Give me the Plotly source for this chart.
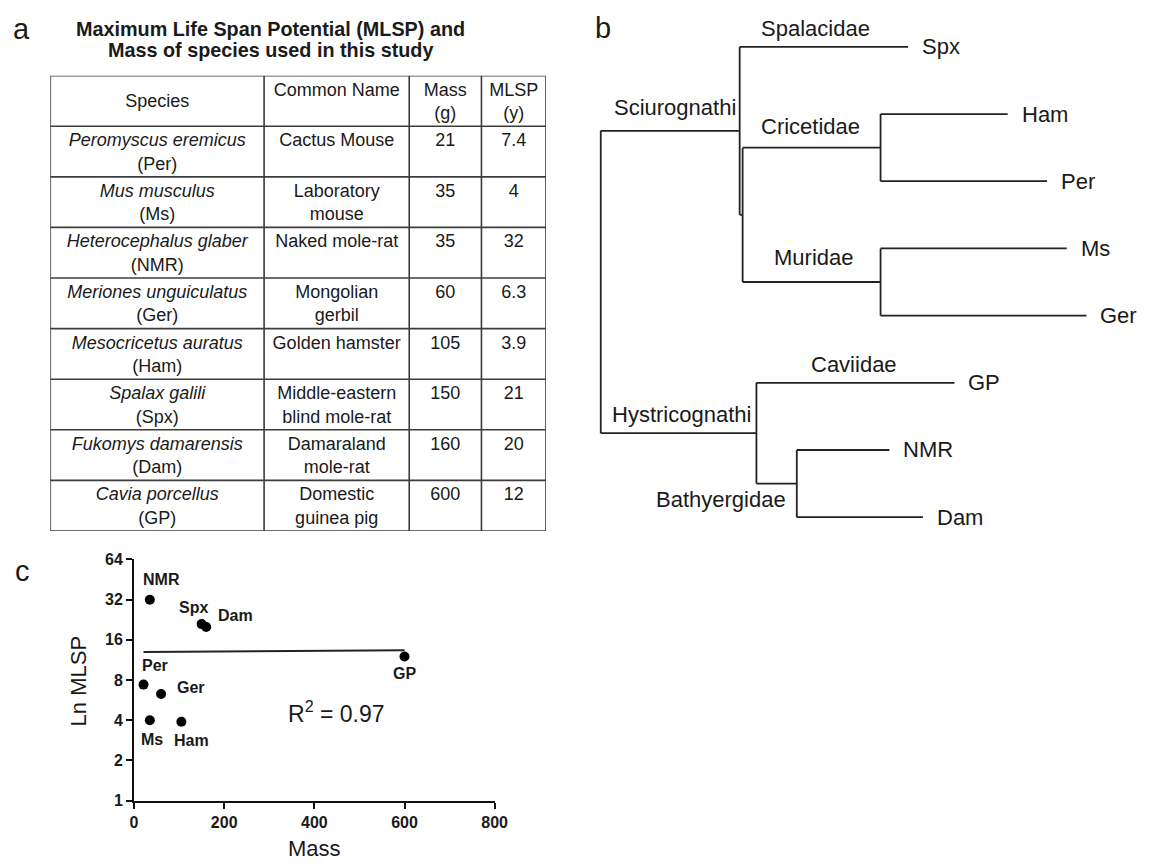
import numpy as np
import plotly.graph_objects as go

W, H = 1151, 868
FONT = "Liberation Sans, Arial, sans-serif"
INK = "#1a1a1a"

# ---------------- data: panel a (table) ----------------
species = ["Peromyscus eremicus", "Mus musculus", "Heterocephalus glaber",
           "Meriones unguiculatus", "Mesocricetus auratus", "Spalax galili",
           "Fukomys damarensis", "Cavia porcellus"]
abbrev = ["Per", "Ms", "NMR", "Ger", "Ham", "Spx", "Dam", "GP"]
common_names = ["Cactus Mouse", "Laboratory<br>mouse", "Naked mole-rat",
                "Mongolian<br>gerbil", "Golden hamster",
                "Middle-eastern<br>blind mole-rat", "Damaraland<br>mole-rat",
                "Domestic<br>guinea pig"]
mass_g = [21, 35, 35, 60, 105, 150, 160, 600]
mlsp_y = [7.4, 4, 32, 6.3, 3.9, 21, 20, 12]
table_headers = ["Species", "Common Name", "Mass<br>(g)", "MLSP<br>(y)"]
table_title = ["Maximum Life Span Potential (MLSP) and",
               "Mass of species used in this study"]

# ---------------- data: panel c (scatter) ----------------
fit_mass = [21, 600]
fit_mlsp = [13.0, 13.4]
r_squared = "0.97"
x_ticks = [0, 200, 400, 600, 800]
y_ticks = [1, 2, 4, 8, 16, 32, 64]

# ---------------- data: panel b (tree) ----------------
tree_nodes = ["root", "Sciurognathi", "Spx", "node_CM", "Cricetidae", "Ham", "Per",
              "Muridae", "Ms", "Ger", "Hystricognathi", "GP", "Bathyergidae", "NMR", "Dam"]
tree_parent = [None, "root", "Sciurognathi", "Sciurognathi", "node_CM", "Cricetidae",
               "Cricetidae", "node_CM", "Muridae", "Muridae", "root", "Hystricognathi",
               "Hystricognathi", "Bathyergidae", "Bathyergidae"]
branch_length = [0, 141, 171, 3, 140, 129, 169, 140, 189, 209, 158, 201, 41, 94, 128]
leaf_order = ["Spx", "Ham", "Per", "Ms", "Ger", "GP", "NMR", "Dam"]
clade_names = ["Sciurognathi", "Spalacidae", "Cricetidae", "Muridae",
               "Hystricognathi", "Caviidae", "Bathyergidae"]
clade_nodes = ["Sciurognathi", "Spx", "Cricetidae", "Muridae",
               "Hystricognathi", "GP", "Bathyergidae"]

# ---------------- style / placement (not data) ----------------
col_widths = [217, 147.3, 73.3, 65.4]
text_row_offset = 0.537
clade_style = {
    "Sciurognathi": ("node", "right", -2, 23),
    "Spalacidae": ("mid", "center", -8, 18),
    "Cricetidae": ("mid", "center", -1, 21),
    "Muridae": ("mid", "center", 2, 25),
    "Hystricognathi": ("node", "right", -3, 19),
    "Caviidae": ("mid", "center", -1, 18),
    "Bathyergidae": ("node", "right", -9, -16),
}
point_label_shift = {
    "NMR": (12, 20), "Spx": (-8, 17), "Dam": (29, 11), "Per": (11, 19),
    "Ger": (30, 6), "Ms": (2, -19), "Ham": (10, -19), "GP": (0, -17),
}


def px(x):
    return x / W


def py(y):
    return 1 - y / H


fig = go.Figure()

# ---------------- table (drawn on its own axes) ----------------
col_edges = np.concatenate([[0], np.cumsum(col_widths)])
col_centers = (col_edges[:-1] + col_edges[1:]) / 2
n_rows = len(species) + 1

gx, gy = [], []
for e in col_edges:
    gx += [e, e, None]
    gy += [0, n_rows, None]
for r in range(n_rows + 1):
    gx += [col_edges[0], col_edges[-1], None]
    gy += [r, r, None]
fig.add_trace(go.Scatter(x=gx, y=gy, mode="lines", xaxis="x3", yaxis="y3",
                         line=dict(color="#3c3c3c", width=1.6), hoverinfo="skip",
                         showlegend=False))


def two_line(s):
    return s if "<br>" in s else s + "<br>\u00a0"


species_cells = [f"<i>{s}</i><br>({a})" for s, a in zip(species, abbrev)]
columns = [species_cells, common_names,
           [str(v) for v in mass_g], [str(v) for v in mlsp_y]]
cx, cy, ct = [], [], []
for j, head in enumerate(table_headers):
    cx.append(col_centers[j])
    cy.append(0 + text_row_offset)
    ct.append(head if j == 0 else two_line(head))
for j, col in enumerate(columns):
    for i, val in enumerate(col):
        cx.append(col_centers[j])
        cy.append(i + 1 + text_row_offset)
        ct.append(two_line(val))
fig.add_trace(go.Scatter(x=cx, y=cy, text=ct, mode="text", xaxis="x3", yaxis="y3",
                         textposition="middle center",
                         textfont=dict(family=FONT, size=18, color=INK),
                         hoverinfo="skip", showlegend=False, cliponaxis=False))

# ---------------- tree ----------------
parent_of = dict(zip(tree_nodes, tree_parent))
blen = dict(zip(tree_nodes, branch_length))
children = {n: [c for c, p in zip(tree_nodes, tree_parent) if p == n] for n in tree_nodes}
node_x = {}
for n in tree_nodes:  # parents listed before children
    p = parent_of[n]
    node_x[n] = 0 if p is None else node_x[p] + blen[n]
node_y = {}


def get_y(n):
    if n in node_y:
        return node_y[n]
    if not children[n]:
        node_y[n] = leaf_order.index(n)
    else:
        ys = [get_y(c) for c in children[n]]
        node_y[n] = (min(ys) + max(ys)) / 2
    return node_y[n]


for n in tree_nodes:
    get_y(n)

tx, ty = [], []
for n in tree_nodes:
    p = parent_of[n]
    if p is not None:
        tx += [node_x[p], node_x[n], None]
        ty += [node_y[n], node_y[n], None]
    if children[n]:
        ys = [node_y[c] for c in children[n]]
        tx += [node_x[n], node_x[n], None]
        ty += [min(ys), max(ys), None]

fig.add_trace(go.Scatter(x=tx, y=ty, mode="lines", xaxis="x2", yaxis="y2",
                         line=dict(color="#222", width=1.8), hoverinfo="skip",
                         showlegend=False))

annotations = []
for leaf in leaf_order:
    annotations.append(dict(x=node_x[leaf], y=node_y[leaf], xref="x2", yref="y2",
                            text=leaf, showarrow=False, xanchor="left", yanchor="middle",
                            xshift=12, font=dict(family=FONT, size=22, color=INK)))
for name, node in zip(clade_names, clade_nodes):
    mode, xa, xs, ys = clade_style[name]
    if mode == "mid":
        ax = (node_x[parent_of[node]] + node_x[node]) / 2
    else:
        ax = node_x[node]
    annotations.append(dict(x=ax, y=node_y[node], xref="x2", yref="y2", text=name,
                            showarrow=False, xanchor=xa, yanchor="middle",
                            xshift=xs, yshift=ys,
                            font=dict(family=FONT, size=22, color=INK)))

# ---------------- scatter ----------------
fig.add_trace(go.Scatter(x=fit_mass, y=fit_mlsp, mode="lines",
                         line=dict(color="#222", width=2), showlegend=False,
                         hoverinfo="skip"))
fig.add_trace(go.Scatter(x=mass_g, y=mlsp_y, mode="markers",
                         marker=dict(size=10, color="black"), showlegend=False))
for a, m, l in zip(abbrev, mass_g, mlsp_y):
    dx, dy = point_label_shift[a]
    annotations.append(dict(x=m, y=np.log10(l), xref="x", yref="y", text=f"<b>{a}</b>",
                            showarrow=False, xanchor="center", yanchor="middle",
                            xshift=dx, yshift=dy,
                            font=dict(family=FONT, size=16, color=INK)))
annotations.append(dict(x=449, y=np.log10(4.6), xref="x", yref="y",
                        text=f"R<sup>2</sup> = {r_squared}", showarrow=False,
                        xanchor="center", yanchor="middle",
                        font=dict(family=FONT, size=23, color=INK)))
annotations.append(dict(x=px(315), y=py(857), xref="paper", yref="paper", text="Mass",
                        showarrow=False, xanchor="center", yanchor="middle",
                        font=dict(family=FONT, size=22, color=INK)))
annotations.append(dict(x=px(76), y=py(686), xref="paper", yref="paper", text="Ln MLSP",
                        showarrow=False, xanchor="center", yanchor="middle", textangle=-90,
                        font=dict(family=FONT, size=22, color=INK)))

for line, yy in zip(table_title, [21.7, 43]):
    annotations.append(dict(x=px(271), y=py(yy), xref="paper", yref="paper",
                            text=f"<b>{line}</b>", showarrow=False,
                            xanchor="center", yanchor="middle",
                            font=dict(family=FONT, size=19.8, color=INK)))
for letter, lx, ly in [("a", 18, 21), ("b", 608, 20), ("c", 19, 574)]:
    annotations.append(dict(x=px(lx), y=py(ly), xref="paper", yref="paper", text=letter,
                            showarrow=False, xanchor="center", yanchor="middle",
                            font=dict(family=FONT, size=29, color=INK)))

axis_common = dict(showline=True, linewidth=2, linecolor="#111", ticks="outside",
                   ticklen=6, tickwidth=2, tickcolor="#111", showgrid=False,
                   zeroline=False,
                   tickfont=dict(family=FONT, size=16, color=INK, weight="bold"))

fig.update_layout(
    width=W, height=H, margin=dict(l=0, r=0, t=0, b=0),
    paper_bgcolor="white", plot_bgcolor="white", showlegend=False,
    xaxis=dict(domain=[px(132), px(498)], range=[0, 800], tickvals=x_ticks,
               anchor="y", **axis_common),
    yaxis=dict(domain=[py(808.5), py(562.5)], type="log", range=[0, np.log10(64)],
               tickvals=y_ticks, ticktext=[str(t) for t in y_ticks], anchor="x",
               **axis_common),
    xaxis2=dict(domain=[px(595), 1], range=[-10.7, 545.3], visible=False,
                anchor="y2"),
    yaxis2=dict(domain=[py(553.6), py(5.35)], range=[7.5, -0.5], visible=False,
                anchor="x2"),
    xaxis3=dict(domain=[px(47), px(550)], range=[0, float(col_edges[-1])],
                visible=False, anchor="y3"),
    yaxis3=dict(domain=[py(533.4), py(69)], range=[n_rows, 0], visible=False,
                anchor="x3"),
    annotations=annotations,
)

fig.write_html("out.html",
               config={"displayModeBar": False},
               post_script="document.body.style.margin='0px';"
                           "document.body.style.overflow='hidden';")
